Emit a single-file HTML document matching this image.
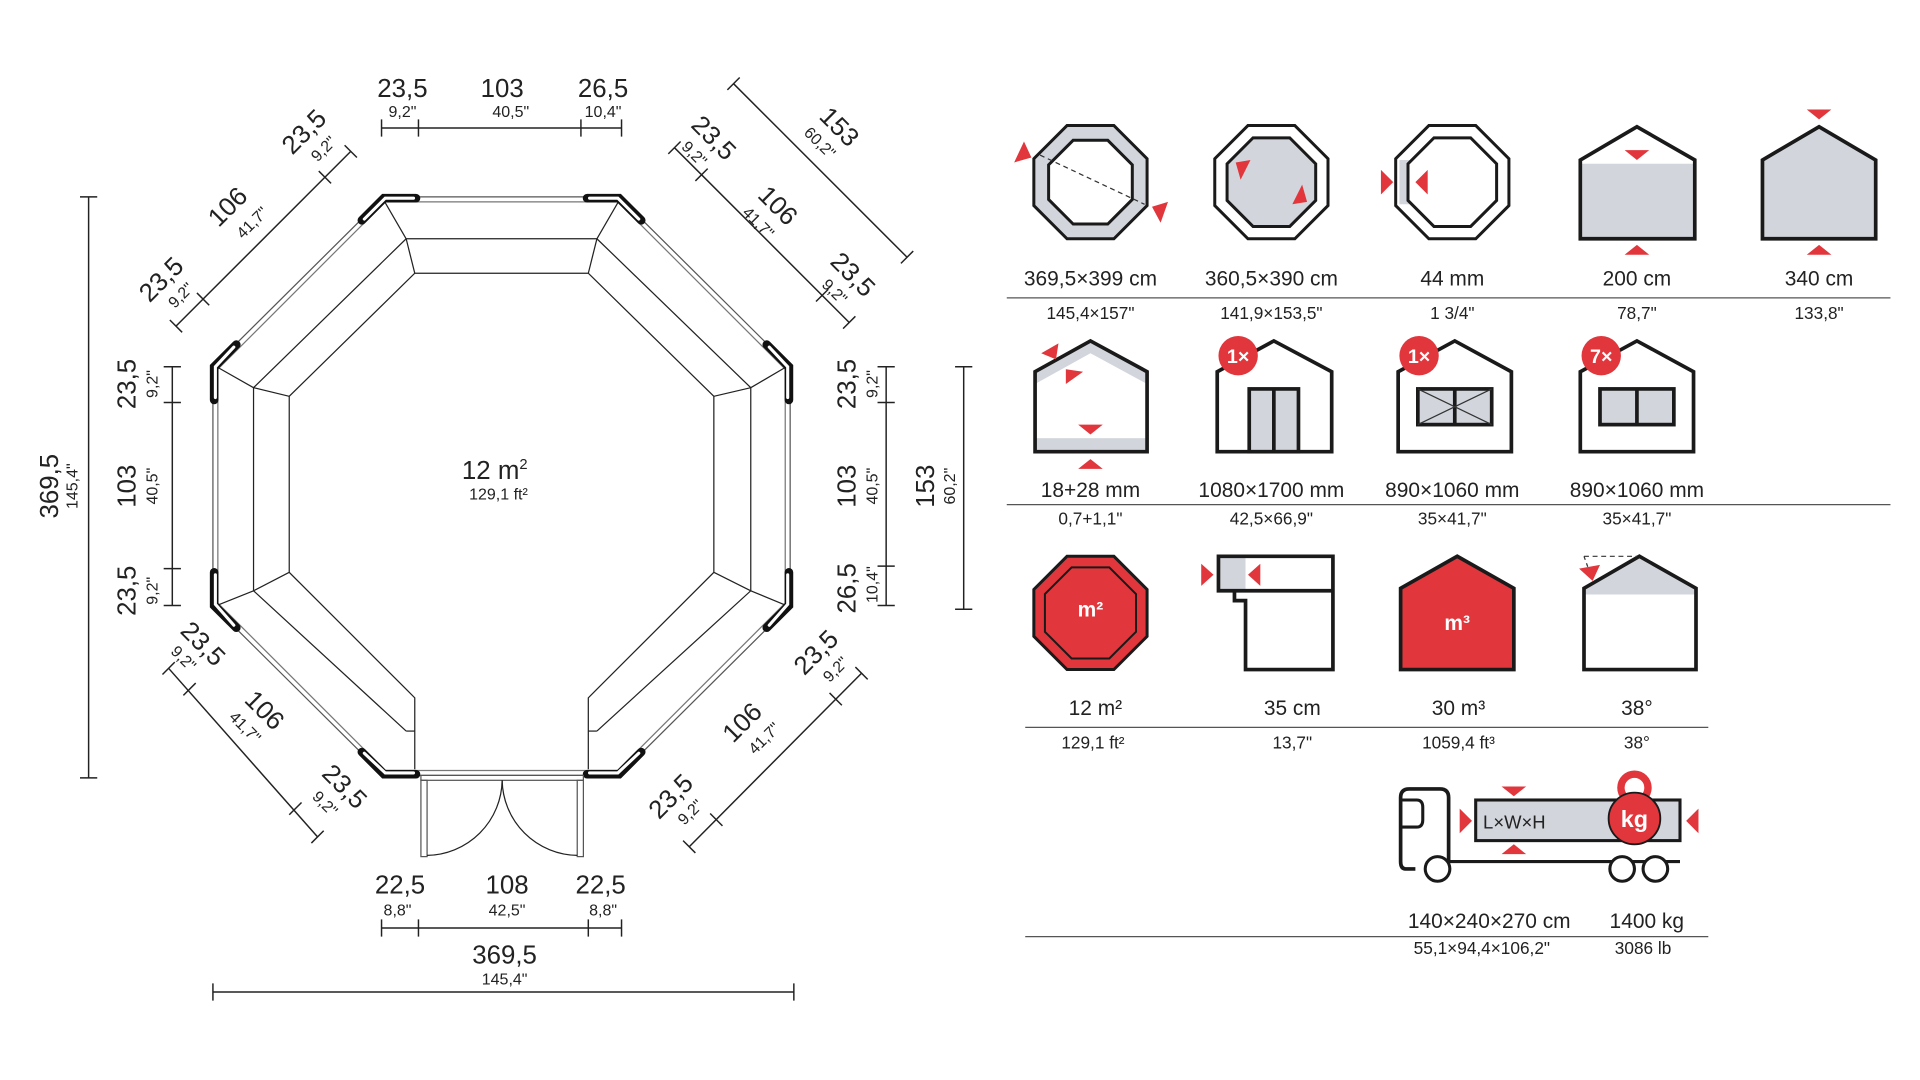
<!DOCTYPE html>
<html><head><meta charset="utf-8"><style>
html,body{margin:0;padding:0;background:#fff;}
svg{display:block;}
text{font-family:"Liberation Sans",sans-serif;fill:#222;}
.b{font-size:21px;}
.s{font-size:13px;}
.l{font-size:17px;}
.m{font-size:14px;}
.t{stroke:#222;stroke-width:1.2;fill:none;}
.o{stroke:#222;stroke-width:1;fill:none;}
.post{stroke:#111;stroke-width:7;stroke-linecap:round;fill:none;}
.posti{stroke:#fff;stroke-width:2.5;stroke-linecap:round;fill:none;}
.ic{stroke:#1a1a1a;stroke-width:3;stroke-linejoin:miter;}
.red{fill:#e0363c;}
</style></head><body>
<svg width="1920" height="1080" viewBox="0 0 1560 877.5" xmlns="http://www.w3.org/2000/svg">
<!-- ===== PLAN ===== -->
<!-- outer walls double line -->
<polygon points="312,160 503,160 642,298 642,492 503,630 312,630 173,492 173,298" fill="none" stroke="#555" stroke-width="1"/>
<polygon points="313,164 502,164 638,300 638,490 502,626 313,626 177,490 177,300" fill="none" stroke="#777" stroke-width="1"/>
<!-- bench/inner lines -->
<polyline class="o" points="337,625 337,567 330,560 235,465 235,322 337,222 478,222 580,322 580,465 485,560 478,567 478,625"/>
<polyline class="o" points="330,594 206,480 206,315 330,194 485,194 610,315 610,480 485,594"/>
<polyline class="o" points="330,594 337,594"/>
<polyline class="o" points="485,594 478,594"/>
<line class="o" x1="312" y1="163" x2="330" y2="194"/><line class="o" x1="330" y1="194" x2="337" y2="222"/>
<line class="o" x1="503" y1="163" x2="485" y2="194"/><line class="o" x1="485" y1="194" x2="478" y2="222"/>
<line class="o" x1="176" y1="298" x2="206" y2="315"/><line class="o" x1="206" y1="315" x2="235" y2="322"/>
<line class="o" x1="639" y1="298" x2="610" y2="315"/><line class="o" x1="610" y1="315" x2="580" y2="322"/>
<line class="o" x1="176" y1="492" x2="206" y2="480"/><line class="o" x1="206" y1="480" x2="235" y2="465"/>
<line class="o" x1="639" y1="492" x2="610" y2="480"/><line class="o" x1="610" y1="480" x2="580" y2="465"/>
<!-- corner posts -->
<g>
<path class="post" d="M338,161 L312,161 L294,179"/><path class="posti" d="M336,161 L313,161 L296,178"/>
<path class="post" d="M477,161 L503,161 L521,179"/><path class="posti" d="M479,161 L502,161 L519,178"/>
<path class="post" d="M192,280 L174,298 L174,325"/><path class="posti" d="M190,282 L175,298 L175,323"/>
<path class="post" d="M623,280 L641,298 L641,325"/><path class="posti" d="M625,282 L640,298 L640,323"/>
<path class="post" d="M174,465 L174,492 L192,510"/><path class="posti" d="M175,467 L175,491 L190,508"/>
<path class="post" d="M641,465 L641,492 L623,510"/><path class="posti" d="M640,467 L640,491 L625,508"/>
<path class="post" d="M294,611 L312,629 L338,629"/><path class="posti" d="M296,612 L313,628 L336,628"/>
<path class="post" d="M521,611 L503,629 L477,629"/><path class="posti" d="M519,612 L502,628 L479,628"/>
</g>
<!-- door -->
<rect x="342" y="630" width="132" height="4" fill="none" stroke="#555" stroke-width="1"/>
<rect x="342" y="634" width="5" height="62" fill="none" stroke="#555" stroke-width="1"/>
<rect x="469" y="634" width="5" height="62" fill="none" stroke="#555" stroke-width="1"/>
<path class="o" d="M408,634 A62,62 0 0 1 347,695"/>
<path class="o" d="M408,634 A62,62 0 0 0 469,695"/>
<text class="b" x="402" y="389" text-anchor="middle">12 m<tspan font-size="12" dy="-8">2</tspan></text>
<text class="s" x="405" y="406" text-anchor="middle">129,1 ft²</text>

<!-- top dims -->
<line class="t" x1="310" y1="104" x2="505" y2="104"/>
<g class="t"><line x1="310" y1="97" x2="310" y2="111"/><line x1="340" y1="97" x2="340" y2="111"/><line x1="472" y1="97" x2="472" y2="111"/><line x1="505" y1="97" x2="505" y2="111"/></g>
<text class="b" x="327" y="79" text-anchor="middle">23,5</text><text class="s" x="327" y="95" text-anchor="middle">9,2"</text>
<text class="b" x="408" y="79" text-anchor="middle">103</text><text class="s" x="415" y="95" text-anchor="middle">40,5"</text>
<text class="b" x="490" y="79" text-anchor="middle">26,5</text><text class="s" x="490" y="95" text-anchor="middle">10,4"</text>
<!-- bottom dims -->
<line class="t" x1="310" y1="754" x2="505" y2="754"/>
<g class="t"><line x1="310" y1="747" x2="310" y2="761"/><line x1="340" y1="747" x2="340" y2="761"/><line x1="478" y1="747" x2="478" y2="761"/><line x1="505" y1="747" x2="505" y2="761"/></g>
<text class="b" x="325" y="726" text-anchor="middle">22,5</text><text class="s" x="323" y="744" text-anchor="middle">8,8"</text>
<text class="b" x="412" y="726" text-anchor="middle">108</text><text class="s" x="412" y="744" text-anchor="middle">42,5"</text>
<text class="b" x="488" y="726" text-anchor="middle">22,5</text><text class="s" x="490" y="744" text-anchor="middle">8,8"</text>
<text class="b" x="410" y="783" text-anchor="middle">369,5</text><text class="s" x="410" y="800" text-anchor="middle">145,4"</text>
<line class="t" x1="173" y1="806" x2="645" y2="806"/>
<line class="t" x1="173" y1="799" x2="173" y2="813"/><line class="t" x1="645" y1="799" x2="645" y2="813"/>
<!-- left dims -->
<line class="t" x1="72" y1="160" x2="72" y2="632"/>
<line class="t" x1="65" y1="160" x2="79" y2="160"/><line class="t" x1="65" y1="632" x2="79" y2="632"/>
<text class="b" transform="translate(47,395) rotate(-90)" text-anchor="middle">369,5</text>
<text class="s" transform="translate(63,395) rotate(-90)" text-anchor="middle">145,4"</text>
<line class="t" x1="140" y1="298" x2="140" y2="492"/>
<g class="t"><line x1="133" y1="298" x2="147" y2="298"/><line x1="133" y1="327" x2="147" y2="327"/><line x1="133" y1="462" x2="147" y2="462"/><line x1="133" y1="492" x2="147" y2="492"/></g>
<text class="b" transform="translate(110,312) rotate(-90)" text-anchor="middle">23,5</text><text class="s" transform="translate(128,312) rotate(-90)" text-anchor="middle">9,2"</text>
<text class="b" transform="translate(110,395) rotate(-90)" text-anchor="middle">103</text><text class="s" transform="translate(128,395) rotate(-90)" text-anchor="middle">40,5"</text>
<text class="b" transform="translate(110,480) rotate(-90)" text-anchor="middle">23,5</text><text class="s" transform="translate(128,480) rotate(-90)" text-anchor="middle">9,2"</text>
<!-- right dims -->
<line class="t" x1="720" y1="298" x2="720" y2="492"/>
<g class="t"><line x1="713" y1="298" x2="727" y2="298"/><line x1="713" y1="327" x2="727" y2="327"/><line x1="713" y1="460" x2="727" y2="460"/><line x1="713" y1="492" x2="727" y2="492"/></g>
<text class="b" transform="translate(695,312) rotate(-90)" text-anchor="middle">23,5</text><text class="s" transform="translate(713,312) rotate(-90)" text-anchor="middle">9,2"</text>
<text class="b" transform="translate(695,395) rotate(-90)" text-anchor="middle">103</text><text class="s" transform="translate(713,395) rotate(-90)" text-anchor="middle">40,5"</text>
<text class="b" transform="translate(695,478) rotate(-90)" text-anchor="middle">26,5</text><text class="s" transform="translate(713,475) rotate(-90)" text-anchor="middle">10,4"</text>
<line class="t" x1="783" y1="298" x2="783" y2="495"/>
<line class="t" x1="776" y1="298" x2="790" y2="298"/><line class="t" x1="776" y1="495" x2="790" y2="495"/>
<text class="b" transform="translate(759,395) rotate(-90)" text-anchor="middle">153</text><text class="s" transform="translate(776,395) rotate(-90)" text-anchor="middle">60,2"</text>

<!-- diagonal top-left -->
<line class="t" x1="143" y1="265" x2="285" y2="123"/>
<g class="t"><line x1="138" y1="260" x2="148" y2="270"/><line x1="160" y1="238" x2="170" y2="248"/><line x1="259" y1="139" x2="269" y2="149"/><line x1="280" y1="118" x2="290" y2="128"/></g>
<text class="b" transform="translate(252,112) rotate(-45)" text-anchor="middle">23,5</text><text class="s" transform="translate(266,124) rotate(-45)" text-anchor="middle">9,2"</text>
<text class="b" transform="translate(190,173) rotate(-45)" text-anchor="middle">106</text><text class="s" transform="translate(208,184) rotate(-45)" text-anchor="middle">41,7"</text>
<text class="b" transform="translate(136,232) rotate(-45)" text-anchor="middle">23,5</text><text class="s" transform="translate(150,243) rotate(-45)" text-anchor="middle">9,2"</text>
<!-- diagonal top-right -->
<line class="t" x1="548" y1="120" x2="690" y2="262"/>
<g class="t"><line x1="543" y1="125" x2="553" y2="115"/><line x1="565" y1="147" x2="575" y2="137"/><line x1="663" y1="245" x2="673" y2="235"/><line x1="685" y1="267" x2="695" y2="257"/></g>
<text class="b" transform="translate(575,117) rotate(45)" text-anchor="middle">23,5</text><text class="s" transform="translate(561,128) rotate(45)" text-anchor="middle">9,2"</text>
<text class="b" transform="translate(627,172) rotate(45)" text-anchor="middle">106</text><text class="s" transform="translate(613,184) rotate(45)" text-anchor="middle">41,7"</text>
<text class="b" transform="translate(688,228) rotate(45)" text-anchor="middle">23,5</text><text class="s" transform="translate(675,240) rotate(45)" text-anchor="middle">9,2"</text>
<line class="t" x1="596" y1="68" x2="737" y2="209"/>
<line class="t" x1="591" y1="73" x2="601" y2="63"/><line class="t" x1="732" y1="214" x2="742" y2="204"/>
<text class="b" transform="translate(677,108) rotate(45)" text-anchor="middle">153</text><text class="s" transform="translate(663,119) rotate(45)" text-anchor="middle">60,2"</text>
<!-- diagonal bottom-left -->
<line class="t" x1="137" y1="543" x2="258" y2="680"/>
<g class="t"><line x1="132" y1="548" x2="142" y2="538"/><line x1="149" y1="565" x2="159" y2="555"/><line x1="235" y1="662" x2="245" y2="652"/><line x1="253" y1="685" x2="263" y2="675"/></g>
<text class="b" transform="translate(160,528) rotate(45)" text-anchor="middle">23,5</text><text class="s" transform="translate(146,538) rotate(45)" text-anchor="middle">9,2"</text>
<text class="b" transform="translate(210,582) rotate(45)" text-anchor="middle">106</text><text class="s" transform="translate(196,594) rotate(45)" text-anchor="middle">41,7"</text>
<text class="b" transform="translate(275,644) rotate(45)" text-anchor="middle">23,5</text><text class="s" transform="translate(261,656) rotate(45)" text-anchor="middle">9,2"</text>
<!-- diagonal bottom-right -->
<line class="t" x1="560" y1="688" x2="700" y2="547"/>
<g class="t"><line x1="555" y1="683" x2="565" y2="693"/><line x1="577" y1="661" x2="587" y2="671"/><line x1="674" y1="563" x2="684" y2="573"/><line x1="695" y1="542" x2="705" y2="552"/></g>
<text class="b" transform="translate(668,535) rotate(-45)" text-anchor="middle">23,5</text><text class="s" transform="translate(682,547) rotate(-45)" text-anchor="middle">9,2"</text>
<text class="b" transform="translate(608,592) rotate(-45)" text-anchor="middle">106</text><text class="s" transform="translate(624,603) rotate(-45)" text-anchor="middle">41,7"</text>
<text class="b" transform="translate(550,652) rotate(-45)" text-anchor="middle">23,5</text><text class="s" transform="translate(564,663) rotate(-45)" text-anchor="middle">9,2"</text>

<!-- ===== ICONS ===== -->
<!-- Row 1 -->
<polygon class="ic" fill="#d2d6dc" points="-0.414,-1 0.414,-1 1,-0.414 1,0.414 0.414,1 -0.414,1 -1,0.414 -1,-0.414" transform="translate(886,148) scale(46)" vector-effect="non-scaling-stroke"/>
<polygon class="ic" fill="#fff" points="-0.414,-1 0.414,-1 1,-0.414 1,0.414 0.414,1 -0.414,1 -1,0.414 -1,-0.414" transform="translate(886,148) scale(34)" vector-effect="non-scaling-stroke"/>
<line x1="845" y1="126" x2="930" y2="166" stroke="#333" stroke-width="1" stroke-dasharray="4,3"/>
<polygon class="red" points="824,132 832,115 838,128"/><polygon class="red" points="949,164 943,181 936,168"/>

<polygon class="ic" fill="#fff" points="-0.414,-1 0.414,-1 1,-0.414 1,0.414 0.414,1 -0.414,1 -1,0.414 -1,-0.414" transform="translate(1033,148) scale(46)" vector-effect="non-scaling-stroke"/>
<polygon class="ic" fill="#d2d6dc" points="-0.414,-1 0.414,-1 1,-0.414 1,0.414 0.414,1 -0.414,1 -1,0.414 -1,-0.414" transform="translate(1033,148) scale(36)" vector-effect="non-scaling-stroke"/>
<polygon class="red" points="1004,132 1016,130 1008,146"/><polygon class="red" points="1062,164 1050,166 1058,150"/>

<polygon class="ic" fill="#fff" points="-0.414,-1 0.414,-1 1,-0.414 1,0.414 0.414,1 -0.414,1 -1,0.414 -1,-0.414" transform="translate(1180,148) scale(46)" vector-effect="non-scaling-stroke"/>
<path d="M1137,130 L1146,130 L1146,166 L1137,166 Z" fill="#d2d6dc"/>
<polygon class="ic" fill="#fff" points="-0.414,-1 0.414,-1 1,-0.414 1,0.414 0.414,1 -0.414,1 -1,0.414 -1,-0.414" transform="translate(1180,148) scale(36)" vector-effect="non-scaling-stroke"/>
<polygon class="red" points="1122,138 1132,148 1122,158"/><polygon class="red" points="1160,138 1150,148 1160,158"/>

<path d="M1284,133 L1377,133 L1377,194 L1284,194 Z" fill="#d2d6dc"/>
<path class="ic" fill="none" d="M1284,194 L1284,130 L1330,103 L1377,130 L1377,194 Z"/>
<polygon class="red" points="1320,122 1340,122 1330,130"/><polygon class="red" points="1320,207 1340,207 1330,199"/>

<path class="ic" fill="#d2d6dc" d="M1432,194 L1432,130 L1478,103 L1524,130 L1524,194 Z"/>
<polygon class="red" points="1468,89 1488,89 1478,97"/><polygon class="red" points="1468,207 1488,207 1478,199"/>

<text class="l" x="886" y="232" text-anchor="middle">369,5×399 cm</text><text class="m" x="886" y="259" text-anchor="middle">145,4×157"</text>
<text class="l" x="1033" y="232" text-anchor="middle">360,5×390 cm</text><text class="m" x="1033" y="259" text-anchor="middle">141,9×153,5"</text>
<text class="l" x="1180" y="232" text-anchor="middle">44 mm</text><text class="m" x="1180" y="259" text-anchor="middle">1 3/4"</text>
<text class="l" x="1330" y="232" text-anchor="middle">200 cm</text><text class="m" x="1330" y="259" text-anchor="middle">78,7"</text>
<text class="l" x="1478" y="232" text-anchor="middle">340 cm</text><text class="m" x="1478" y="259" text-anchor="middle">133,8"</text>
<line x1="818" y1="242" x2="1536" y2="242" stroke="#555" stroke-width="1"/>

<!-- Row 2 -->
<path d="M841,302 L886,277 L932,302 L932,312 L886,287 L841,312 Z" fill="#d2d6dc"/>
<rect x="841" y="356" width="91" height="11" fill="#d2d6dc"/>
<path class="ic" fill="none" d="M841,367 L841,302 L886,277 L932,302 L932,367 Z"/>
<polygon class="red" points="846,287 860,279 858,292"/><polygon class="red" points="866,312 880,302 866,300"/>
<polygon class="red" points="876,345 896,345 886,353"/><polygon class="red" points="876,381 896,381 886,373"/>

<path class="ic" fill="#fff" d="M989,367 L989,302 L1035,277 L1082,302 L1082,367 Z"/>
<rect x="1015" y="316" width="40" height="51" fill="#d2d6dc" stroke="#1a1a1a" stroke-width="3"/>
<line x1="1035" y1="316" x2="1035" y2="367" stroke="#1a1a1a" stroke-width="3"/>
<circle cx="1006" cy="289" r="16" fill="#e0363c"/><text x="1006" y="295" fill="#fff" style="fill:#fff;font-size:16px;font-weight:bold" text-anchor="middle">1×</text>

<path class="ic" fill="#fff" d="M1136,367 L1136,302 L1182,277 L1228,302 L1228,367 Z"/>
<rect x="1152" y="316" width="60" height="29" fill="#d2d6dc" stroke="#1a1a1a" stroke-width="3"/>
<line x1="1182" y1="316" x2="1182" y2="345" stroke="#1a1a1a" stroke-width="3"/>
<path d="M1152,316 L1212,345 M1212,316 L1152,345" stroke="#333" stroke-width="1"/>
<circle cx="1153" cy="289" r="16" fill="#e0363c"/><text x="1153" y="295" style="fill:#fff;font-size:16px;font-weight:bold" text-anchor="middle">1×</text>

<path class="ic" fill="#fff" d="M1284,367 L1284,302 L1330,277 L1376,302 L1376,367 Z"/>
<rect x="1300" y="316" width="60" height="29" fill="#d2d6dc" stroke="#1a1a1a" stroke-width="3"/>
<line x1="1330" y1="316" x2="1330" y2="345" stroke="#1a1a1a" stroke-width="3"/>
<circle cx="1301" cy="289" r="16" fill="#e0363c"/><text x="1301" y="295" style="fill:#fff;font-size:16px;font-weight:bold" text-anchor="middle">7×</text>

<text class="l" x="886" y="404" text-anchor="middle">18+28 mm</text><text class="m" x="886" y="426" text-anchor="middle">0,7+1,1"</text>
<text class="l" x="1033" y="404" text-anchor="middle">1080×1700 mm</text><text class="m" x="1033" y="426" text-anchor="middle">42,5×66,9"</text>
<text class="l" x="1180" y="404" text-anchor="middle">890×1060 mm</text><text class="m" x="1180" y="426" text-anchor="middle">35×41,7"</text>
<text class="l" x="1330" y="404" text-anchor="middle">890×1060 mm</text><text class="m" x="1330" y="426" text-anchor="middle">35×41,7"</text>
<line x1="818" y1="410" x2="1536" y2="410" stroke="#555" stroke-width="1"/>

<!-- Row 3 -->
<polygon class="ic" fill="#e0363c" points="-0.414,-1 0.414,-1 1,-0.414 1,0.414 0.414,1 -0.414,1 -1,0.414 -1,-0.414" transform="translate(886,498) scale(46)" vector-effect="non-scaling-stroke"/>
<polygon fill="none" stroke="#1a1a1a" stroke-width="2" points="-0.414,-1 0.414,-1 1,-0.414 1,0.414 0.414,1 -0.414,1 -1,0.414 -1,-0.414" transform="translate(886,498) scale(37)" vector-effect="non-scaling-stroke"/>
<text x="886" y="501" style="fill:#fff;font-size:17px;font-weight:bold" text-anchor="middle">m²</text>

<rect x="990" y="452" width="22" height="28" fill="#d2d6dc"/>
<path class="ic" fill="none" d="M990,452 L1083,452 L1083,544 L1012,544 L1012,488 L1003,488 L1003,480 L990,480 Z M990,480 L1083,480"/>
<polygon class="red" points="976,458 986,467 976,476"/><polygon class="red" points="1024,458 1014,467 1024,476"/>

<path class="ic" fill="#e0363c" d="M1138,544 L1138,478 L1184,452 L1230,478 L1230,544 Z"/>
<text x="1184" y="512" style="fill:#fff;font-size:17px;font-weight:bold" text-anchor="middle">m³</text>

<path d="M1287,483 L1287,478 L1332,452 L1378,478 L1378,483 Z" fill="#d2d6dc"/>
<path class="ic" fill="none" d="M1287,544 L1287,478 L1332,452 L1378,478 L1378,544 Z"/>
<line x1="1287" y1="452" x2="1330" y2="452" stroke="#333" stroke-width="1" stroke-dasharray="4,3"/>
<line x1="1287" y1="452" x2="1292" y2="466" stroke="#333" stroke-width="1" stroke-dasharray="3,3"/>
<polygon class="red" points="1283,462 1300,459 1294,472"/>

<text class="l" x="890" y="581" text-anchor="middle">12 m²</text><text class="m" x="888" y="608" text-anchor="middle">129,1 ft²</text>
<text class="l" x="1050" y="581" text-anchor="middle">35 cm</text><text class="m" x="1050" y="608" text-anchor="middle">13,7"</text>
<text class="l" x="1185" y="581" text-anchor="middle">30 m³</text><text class="m" x="1185" y="608" text-anchor="middle">1059,4 ft³</text>
<text class="l" x="1330" y="581" text-anchor="middle">38°</text><text class="m" x="1330" y="608" text-anchor="middle">38°</text>
<line x1="833" y1="591" x2="1388" y2="591" stroke="#555" stroke-width="1"/>

<!-- truck -->
<path class="ic" fill="none" stroke-width="2.5" d="M1150,706 L1142,706 Q1138,706 1138,700 L1138,648 Q1138,641 1145,641 L1170,641 Q1177,641 1177,648 L1177,700"/>
<path d="M1138,650 L1151,650 Q1156,650 1156,656 L1156,666 Q1156,672 1151,672 L1138,672" fill="none" stroke="#1a1a1a" stroke-width="2.5"/>
<line x1="1177" y1="700" x2="1365" y2="700" stroke="#1a1a1a" stroke-width="2.5"/>
<rect x="1199" y="650" width="166" height="33" fill="#d2d6dc" stroke="#1a1a1a" stroke-width="2.5"/>
<circle cx="1168" cy="706" r="10" fill="#fff" stroke="#1a1a1a" stroke-width="2.5"/>
<circle cx="1318" cy="706" r="10" fill="#fff" stroke="#1a1a1a" stroke-width="2.5"/>
<circle cx="1345" cy="706" r="10" fill="#fff" stroke="#1a1a1a" stroke-width="2.5"/>
<text x="1205" y="673" style="font-size:15px">L×W×H</text>
<circle cx="1328" cy="640" r="11" fill="none" stroke="#e0363c" stroke-width="6"/>
<circle cx="1328" cy="665" r="21" fill="#e0363c" stroke="#1a1a1a" stroke-width="1.5"/>
<text x="1328" y="672" style="fill:#fff;font-size:19px;font-weight:bold" text-anchor="middle">kg</text>
<polygon class="red" points="1220,639 1240,639 1230,647"/><polygon class="red" points="1220,694 1240,694 1230,686"/>
<polygon class="red" points="1186,657 1196,667 1186,677"/><polygon class="red" points="1380,657 1370,667 1380,677"/>
<text class="l" x="1210" y="754" text-anchor="middle">140×240×270 cm</text><text class="m" x="1204" y="775" text-anchor="middle">55,1×94,4×106,2"</text>
<text class="l" x="1338" y="754" text-anchor="middle">1400 kg</text><text class="m" x="1335" y="775" text-anchor="middle">3086 lb</text>
<line x1="833" y1="761" x2="1388" y2="761" stroke="#555" stroke-width="1"/>
</svg>
</body></html>
